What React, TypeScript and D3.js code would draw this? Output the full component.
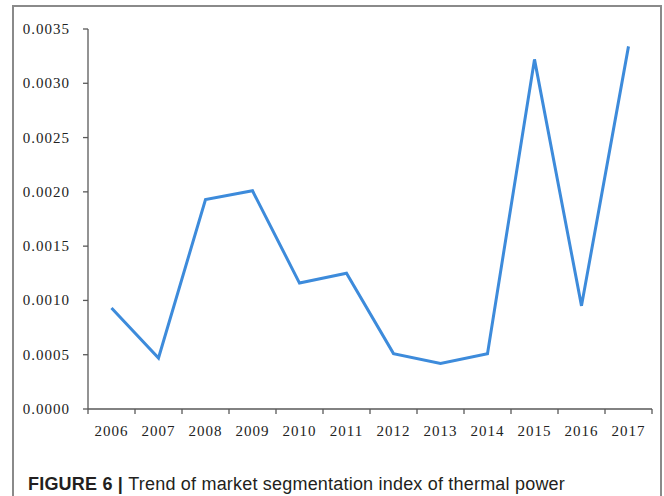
import { useMemo } from "react";
import * as d3 from "d3";

const years = ["2006", "2007", "2008", "2009", "2010", "2011", "2012", "2013", "2014", "2015", "2016", "2017"];
const index = [0.00093, 0.00047, 0.00193, 0.00201, 0.00116, 0.00125, 0.00051, 0.00042, 0.00051, 0.00322, 0.00095, 0.00334];
const yTicks = [0, 0.0005, 0.001, 0.0015, 0.002, 0.0025, 0.003, 0.0035];

const LEFT = 88;
const RIGHT = 652;
const TOP = 29;
const BOTTOM = 409;
const AXIS = "#595959";

export default function App() {
  const x = useMemo(() => d3.scaleBand().domain(years).range([LEFT, RIGHT]), []);
  const y = useMemo(() => d3.scaleLinear().domain([0, 0.0035]).range([BOTTOM, TOP]), []);

  const path = useMemo(() => {
    const line = d3
      .line<number>()
      .x((_, i) => (x(years[i]) ?? 0) + x.bandwidth() / 2)
      .y((d) => y(d));
    return line(index) ?? "";
  }, [x, y]);

  const edges = [...years.map((yr) => x(yr) ?? 0), RIGHT];

  return (
    <svg
      width={664}
      height={496}
      style={{ position: "absolute", left: 0, top: 0, background: "#fff" }}
    >
      <rect x={13} y={6} width={648} height={500} fill="#fff" stroke="#8a8a8a" strokeWidth={2} />

      {/* y axis */}
      <line x1={LEFT} x2={LEFT} y1={TOP} y2={BOTTOM} stroke={AXIS} strokeWidth={1.3} />
      {yTicks.map((t) => (
        <g key={t}>
          <line x1={LEFT - 5} x2={LEFT} y1={y(t)} y2={y(t)} stroke={AXIS} strokeWidth={1.3} />
          <text
            x={70}
            y={y(t) + 5}
            textAnchor="end"
            fontFamily="'Liberation Serif', 'Times New Roman', serif"
            fontSize={15}
            letterSpacing={1}
            fill="#222"
          >
            {d3.format(".4f")(t)}
          </text>
        </g>
      ))}

      {/* x axis */}
      <line x1={LEFT} x2={RIGHT} y1={BOTTOM} y2={BOTTOM} stroke={AXIS} strokeWidth={1.3} />
      {edges.map((e, i) => (
        <line key={i} x1={e} x2={e} y1={BOTTOM} y2={BOTTOM + 5} stroke={AXIS} strokeWidth={1.3} />
      ))}
      {years.map((yr) => (
        <text
          key={yr}
          x={(x(yr) ?? 0) + x.bandwidth() / 2}
          y={436}
          textAnchor="middle"
          fontFamily="'Liberation Serif', 'Times New Roman', serif"
          fontSize={15}
          letterSpacing={1}
          fill="#222"
        >
          {yr}
        </text>
      ))}

      <path d={path} fill="none" stroke="#3d8bdb" strokeWidth={3} strokeLinejoin="miter" />

      <text
        x={28}
        y={490}
        fontFamily="'Liberation Sans', Arial, sans-serif"
        fontSize={18}
        letterSpacing={0.2}
        fill="#231f20"
      >
        <tspan fontWeight="bold">FIGURE 6</tspan>
        <tspan fontWeight="bold"> | </tspan>
        <tspan>Trend of market segmentation index of thermal power</tspan>
      </text>
    </svg>
  );
}
